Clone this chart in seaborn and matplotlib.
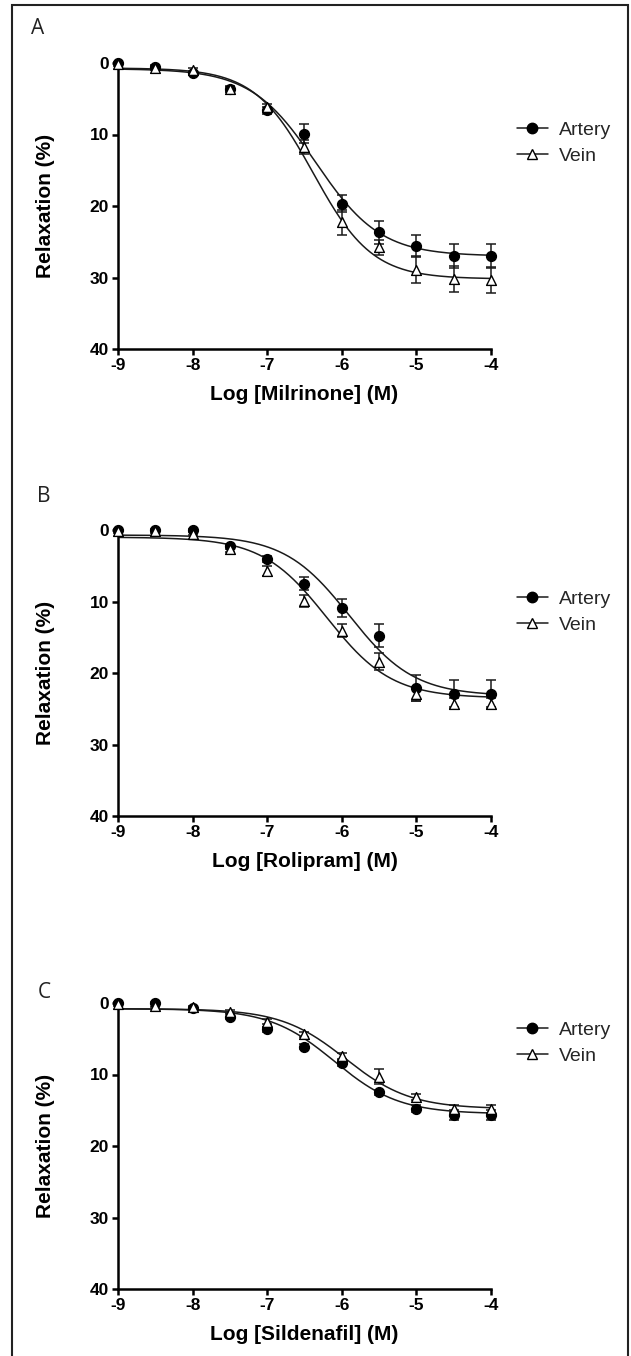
import numpy as np
import pandas as pd
import matplotlib
matplotlib.use("Agg")
import matplotlib.pyplot as plt
from matplotlib.lines import Line2D
from matplotlib.patches import Rectangle
import seaborn as sns

# log molar concentrations shared by all three panels
log_conc = [-9, -8.5, -8, -7.5, -7, -6.5, -6, -5.5, -5, -4.5, -4]

# Panel A - milrinone (mean relaxation % and SEM)
milrinone_artery = [0.0, 0.6, 1.4, 3.7, 6.6, 9.9, 19.7, 23.7, 25.6, 27.0, 27.0]
milrinone_artery_sem = [0.2, 0.3, 0.3, 0.4, 0.5, 1.3, 1.2, 1.6, 1.6, 1.7, 1.7]
milrinone_vein = [0.2, 0.7, 1.0, 3.6, 6.2, 11.7, 22.3, 25.8, 28.9, 30.2, 30.3]
milrinone_vein_sem = [0.2, 0.3, 0.3, 0.4, 0.5, 1.0, 1.8, 1.0, 1.9, 1.8, 1.8]

# Panel B - rolipram
rolipram_artery = [0.0, 0.0, 0.0, 2.3, 4.1, 7.5, 10.9, 14.8, 22.1, 22.9, 22.9]
rolipram_artery_sem = [0.2, 0.2, 0.2, 0.4, 0.4, 0.9, 1.3, 1.6, 1.8, 1.9, 1.9]
rolipram_vein = [0.2, 0.2, 0.5, 2.7, 5.8, 9.9, 14.1, 18.4, 22.9, 24.3, 24.3]
rolipram_vein_sem = [0.2, 0.2, 0.2, 0.4, 0.7, 0.8, 0.9, 1.2, 1.0, 0.8, 0.8]

# Panel C - sildenafil
sildenafil_artery = [0.0, 0.0, 0.7, 1.9, 3.7, 6.1, 8.4, 12.5, 14.8, 15.6, 15.6]
sildenafil_artery_sem = [0.2, 0.2, 0.2, 0.3, 0.3, 0.3, 0.4, 0.3, 0.5, 0.7, 0.7]
sildenafil_vein = [0.2, 0.4, 0.6, 1.2, 2.6, 4.4, 7.4, 10.3, 13.1, 14.8, 14.8]
sildenafil_vein_sem = [0.2, 0.2, 0.2, 0.2, 0.3, 0.3, 0.4, 1.0, 0.4, 0.5, 0.6]

# sigmoidal fit parameters: bottom, top, logEC50, hill slope
fit_params = {
    "A": {"Artery": (0.8, 27.0, -6.35, 1.0), "Vein": (0.7, 30.2, -6.38, 1.1)},
    "B": {"Artery": (0.7, 23.2, -5.90, 1.0), "Vein": (1.0, 23.5, -6.20, 1.0)},
    "C": {"Artery": (0.8, 15.5, -6.10, 1.0), "Vein": (0.8, 14.8, -5.95, 1.0)},
}

panel_letters = ["A", "B", "C"]
x_labels = ["Log [Milrinone] (M)", "Log [Rolipram] (M)", "Log [Sildenafil] (M)"]
y_label = "Relaxation (%)"
series_names = ["Artery", "Vein"]
y_ticks = [0, 10, 20, 30, 40]
x_ticks = [-9, -8, -7, -6, -5, -4]

panel_data = [
    (milrinone_artery, milrinone_artery_sem, milrinone_vein, milrinone_vein_sem),
    (rolipram_artery, rolipram_artery_sem, rolipram_vein, rolipram_vein_sem),
    (sildenafil_artery, sildenafil_artery_sem, sildenafil_vein, sildenafil_vein_sem),
]


def hill(x, bottom, top, logec50, slope):
    return bottom + (top - bottom) / (1 + 10 ** ((logec50 - x) * slope))


sns.set_theme(style="ticks")
plt.rcParams["font.family"] = ["Liberation Sans", "DejaVu Sans"]

W, H = 631, 1356
fig = plt.figure(figsize=(W / 100, H / 100), dpi=100)

# outer frame (no bottom edge visible in the source)
fig.patches.append(Rectangle((12 / W, -0.05), (628 - 12) / W, 1.05 - 5 / H,
                             transform=fig.transFigure, fill=False,
                             edgecolor="#222222", linewidth=1.5))

# axes boxes in pixel rows (top, bottom)
axes_rows = [(63, 349), (530, 816), (1003, 1289)]
legend_rows = [127, 596, 1027]
letter_pos = [(38, 28), (44, 497), (44, 993)]
ax_left, ax_right = 118, 491

styles = {
    "Artery": dict(marker="o", facecolor="black", size=50),
    "Vein": dict(marker="^", facecolor="white", size=50),
}

xfit = np.linspace(-9, -4, 300)

for i, (top_px, bot_px) in enumerate(axes_rows):
    ax = fig.add_axes([ax_left / W, 1 - bot_px / H, (ax_right - ax_left) / W, (bot_px - top_px) / H])
    art, art_sem, vein, vein_sem = panel_data[i]
    means = {"Artery": (art, art_sem), "Vein": (vein, vein_sem)}
    for name in series_names:
        p = fit_params[panel_letters[i]][name]
        curve = pd.DataFrame({"x": xfit, "y": hill(xfit, *p)})
        sns.lineplot(data=curve, x="x", y="y", ax=ax, color="#1a1a1a", linewidth=1.1)
        y, e = means[name]
        ax.errorbar(log_conc, y, yerr=e, fmt="none", ecolor="#1a1a1a",
                    elinewidth=1.1, capsize=3.8, capthick=1.1, clip_on=False, zorder=3)
    for name in series_names:
        y, e = means[name]
        pts = pd.DataFrame({"x": log_conc, "y": y})
        st = styles[name]
        sns.scatterplot(data=pts, x="x", y="y", ax=ax, marker=st["marker"], s=st["size"],
                        color=st["facecolor"], edgecolor="black", linewidth=1.0,
                        clip_on=False, zorder=4)

    ax.set_xlim(-9, -4)
    ax.set_ylim(40, 0)
    ax.set_xticks(x_ticks)
    ax.set_xticklabels([str(t) for t in x_ticks])
    ax.set_yticks(y_ticks)
    for lab in ax.get_xticklabels() + ax.get_yticklabels():
        lab.set_fontweight("bold")
    ax.tick_params(axis="both", direction="out", length=4, width=1.8, labelsize=12.5,
                   pad=2.5, colors="black")
    for side in ["top", "right"]:
        ax.spines[side].set_visible(False)
    for side in ["left", "bottom"]:
        ax.spines[side].set_linewidth(1.8)
        ax.spines[side].set_color("black")

    ax.set_xlabel(x_labels[i], fontsize=15, fontweight="bold", color="black")
    ax.set_ylabel(y_label, fontsize=15, fontweight="bold", color="black")
    ax.xaxis.set_label_coords(0.5, -0.125)
    ax.yaxis.set_label_coords(-0.17, 0.5)

    handles = [
        Line2D([0], [0], color="#1a1a1a", lw=1.1, marker="o", markersize=7.5,
               markerfacecolor="black", markeredgecolor="black"),
        Line2D([0], [0], color="#1a1a1a", lw=1.1, marker="^", markersize=7.5,
               markerfacecolor="white", markeredgecolor="black"),
    ]
    ax.legend(handles, series_names, loc="upper left",
              bbox_to_anchor=(503 / W, 1 - (legend_rows[i] - 19) / H),
              bbox_transform=fig.transFigure, frameon=False, fontsize=14,
              handlelength=1.6, handletextpad=0.6, labelspacing=0.4, borderpad=0.2)

    lx, ly = letter_pos[i]
    fig.text(lx / W, 1 - ly / H, panel_letters[i], fontsize=15, family="Open Sans",
             ha="center", va="center", color="#222222")

fig.savefig("out.png", dpi=100)
